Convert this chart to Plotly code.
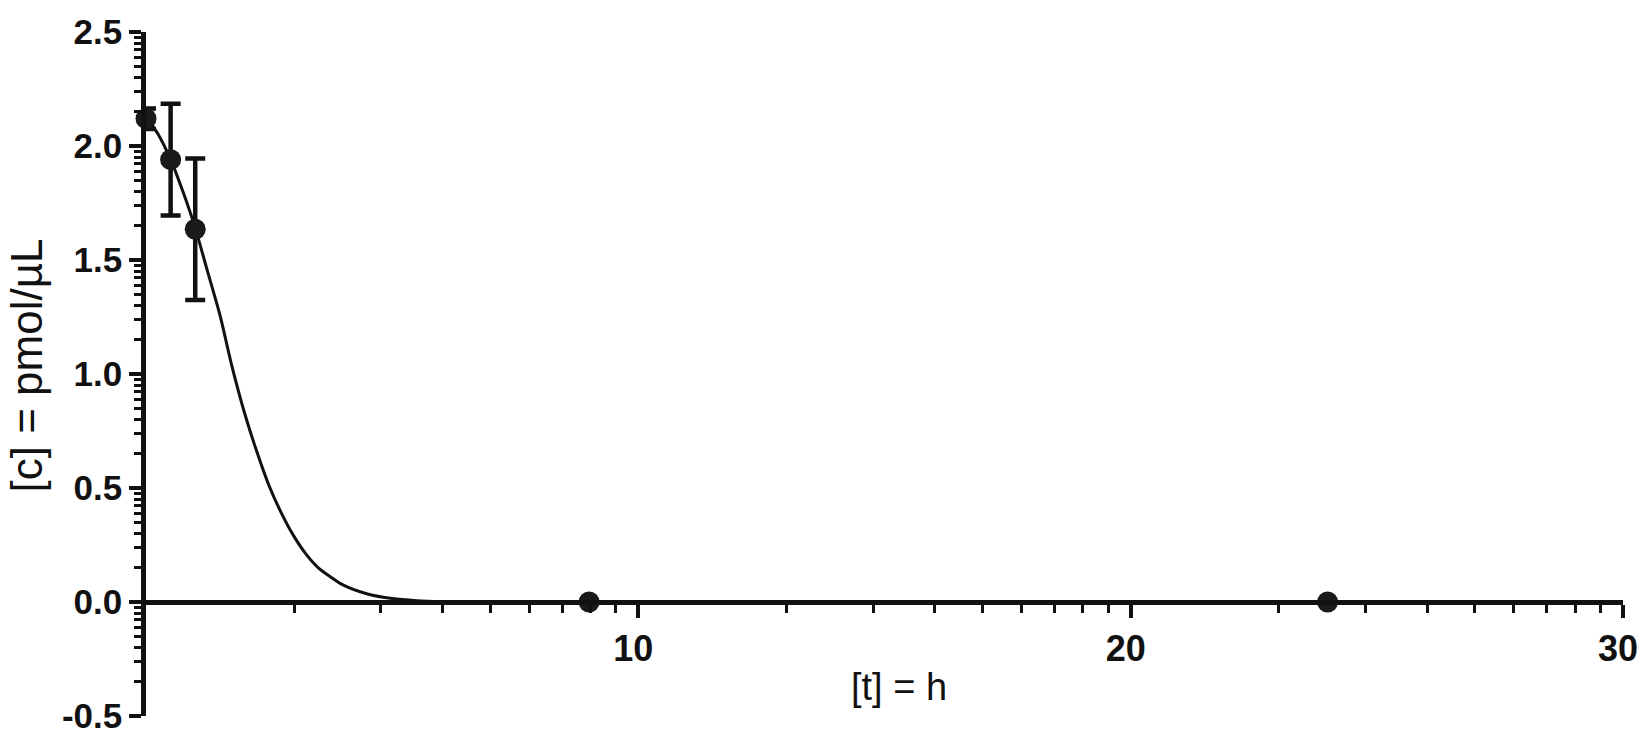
import math
import plotly.graph_objects as go

# Measured points (mean +/- SD)
time_h = [0, 0.5, 1, 9, 24]
conc_mean = [2.12, 1.94, 1.635, 0, 0]
conc_sd = [0.045, 0.245, 0.31, 0, 0]

# Fitted curve
fit_t = [0, 0.25, 0.5, 0.75, 1.0, 1.25, 1.5, 1.75, 2.0, 2.25, 2.5, 2.75, 3.0,
         3.25, 3.5, 3.75, 4.0, 4.5, 5.0, 5.5, 6.0, 7.0, 24]
fit_c = [2.13, 2.05, 1.94, 1.80, 1.64, 1.45, 1.26, 1.03, 0.83, 0.66, 0.51, 0.39, 0.29,
         0.21, 0.15, 0.11, 0.075, 0.035, 0.015, 0.006, 0.002, 0, 0]

# Axis ticks
x_ticks = [10, 20, 30]
x_ticktext = ['10', '20', '30']
y_ticks = [-0.5, 0.0, 0.5, 1.0, 1.5, 2.0, 2.5]
y_ticktext = ['-0.5', '0.0', '0.5', '1.0', '1.5', '2.0', '2.5']

# log-spaced minor ticks inside each major interval (Prism style)
x_minor = [a + 10 * math.log10(k) for a in (0, 10, 20) for k in range(2, 10)]
y_minor = [a + 0.5 * math.log10(k) for a in (-0.5, 0.0, 0.5, 1.0, 1.5, 2.0) for k in range(2, 10)]

ink = '#111111'
font_family = 'Liberation Sans, Arial, sans-serif'

fig = go.Figure()

fig.add_trace(go.Scatter(
    x=fit_t, y=fit_c,
    mode='lines',
    line=dict(color=ink, width=3, shape='spline', smoothing=0.8),
    hoverinfo='skip',
    cliponaxis=False,
))

fig.add_trace(go.Scatter(
    x=time_h, y=conc_mean,
    mode='markers',
    marker=dict(size=21, color='#1a1a1a', line=dict(width=0)),
    error_y=dict(type='data', array=conc_sd, visible=True,
                 color=ink, thickness=4.5, width=10),
    cliponaxis=False,
))

fig.update_layout(
    width=1650, height=747,
    paper_bgcolor='white', plot_bgcolor='white',
    showlegend=False,
    margin=dict(l=146, r=19, t=32, b=22),
    font=dict(family=font_family, color=ink),
    xaxis=dict(
        range=[0, 30],
        anchor='free', position=1 / 6,
        showgrid=False, zeroline=False,
        showline=True, linecolor=ink, linewidth=4.5,
        tickmode='array', tickvals=x_ticks, ticktext=x_ticktext,
        ticks='outside', ticklen=13, tickwidth=4, tickcolor=ink,
        tickfont=dict(size=36, color=ink, weight='bold'),
        ticklabelshift=-5,
        minor=dict(tickmode='array', tickvals=x_minor, ticks='outside',
                   ticklen=8, tickwidth=3, tickcolor=ink, showgrid=False),
    ),
    yaxis=dict(
        range=[-0.5, 2.5],
        showgrid=False, zeroline=False,
        showline=True, linecolor=ink, linewidth=4.5,
        tickmode='array', tickvals=y_ticks, ticktext=y_ticktext,
        ticks='outside', ticklen=12, tickwidth=4, tickcolor=ink,
        tickfont=dict(size=35, color=ink, weight='bold'),
        minor=dict(tickmode='array', tickvals=y_minor, ticks='outside',
                   ticklen=7, tickwidth=3, tickcolor=ink, showgrid=False),
    ),
    annotations=[
        dict(text='[t] = h', xref='paper', yref='paper', x=0.510, y=0.042,
             xanchor='center', yanchor='middle', showarrow=False,
             font=dict(size=38, color=ink)),
        dict(text='[c] = pmol/µL', xref='paper', yref='paper', x=-0.081, y=0.513,
             xanchor='center', yanchor='middle', showarrow=False, textangle=-90,
             font=dict(size=44, color=ink)),
    ],
)

# drop the default 8px page margin so the figure sits at the window origin
fig.write_html('out.html', config={'displayModeBar': False},
               post_script="document.body.style.margin='0';")
